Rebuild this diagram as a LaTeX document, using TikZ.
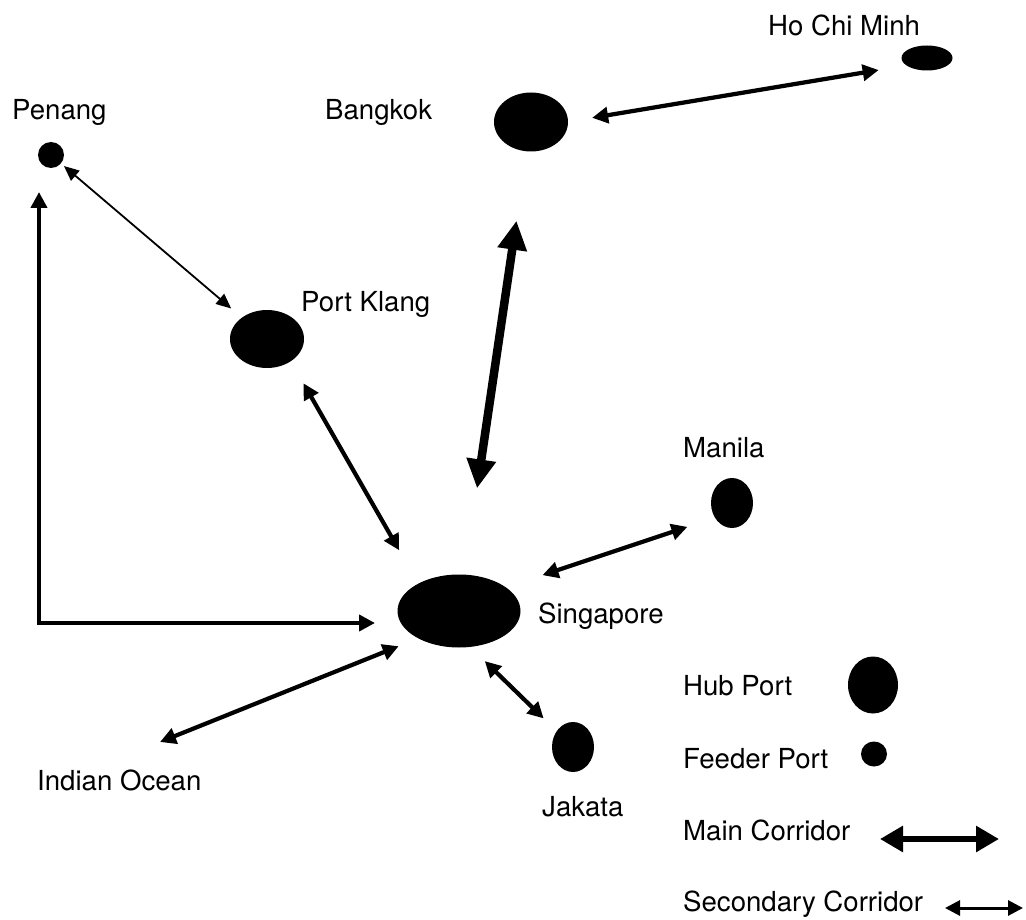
\documentclass[tikz,border=0pt]{standalone}
\usepackage{fontspec}
\setmainfont{TeX Gyre Heros}
\usetikzlibrary{arrows.meta,shapes.geometric}
\begin{document}
\begin{tikzpicture}[x=1pt,y=-1pt,
  port/.style={ellipse,fill=black,draw=none,inner sep=0pt},
  lbl/.style={anchor=base west,inner sep=0pt,font=\fontsize{27.6}{33}\selectfont},
  thinlink/.style={line width=1.8pt,
    {Triangle[length=15pt,width=13pt]}-{Triangle[length=15pt,width=13pt]}},
  midlink/.style={line width=4.2pt,
    {Triangle[length=16pt,width=16pt]}-{Triangle[length=16pt,width=16pt]}},
  thicklink/.style={line width=8.5pt,
    {Triangle[length=29pt,width=28pt]}-{Triangle[length=29pt,width=28pt]}},
  mainkey/.style={line width=6.5pt,
    {Triangle[length=23pt,width=25pt]}-{Triangle[length=23pt,width=25pt]}},
  secondkey/.style={line width=3pt,
    {Triangle[length=15pt,width=15pt]}-{Triangle[length=15pt,width=15pt]}}
]
\useasboundingbox (0,0) rectangle (1026,920);

% ports
\node[port,minimum width=26pt,minimum height=26pt] (pen) at (51,155) {};
\node[port,minimum width=74pt,minimum height=59pt] (bkk) at (531,122) {};
\node[port,minimum width=51pt,minimum height=25pt] (hcm) at (927,58) {};
\node[port,minimum width=74pt,minimum height=58pt] (pk)  at (267,339) {};
\node[port,minimum width=123pt,minimum height=73pt] (sg) at (459,611) {};
\node[port,minimum width=42pt,minimum height=50pt] (mnl) at (732,503) {};
\node[port,minimum width=42pt,minimum height=50pt] (jak) at (573,747) {};
\coordinate (io) at (160,742);

% labels
\node[lbl] (penL) at (12,120) {Penang};
\node[lbl] (bkkL) at (325,120) {Bangkok};
\node[lbl] (hcmL) at (768,36) {Ho Chi Minh};
\node[lbl] (pkL)  at (301,312) {Port Klang};
\node[lbl] (sgL)  at (538,623) {Singapore};
\node[lbl] (mnlL) at (683,457) {Manila};
\node[lbl] (jakL) at (542,816) {Jakata};
\node[lbl] (ioL)  at (37,790) {Indian Ocean};

% corridors
\draw[thicklink,shorten <=70pt,shorten >=87pt] (bkk) -- (sg);
\draw[midlink,shorten <=62pt,shorten >=49pt]
  ([yshift=-6pt]bkk.center) -- ([yshift=-4pt]hcm.center);
\draw[thinlink,shorten <=17pt,shorten >=47pt] (pen.center) -- (pk.center);
\draw[midlink,shorten <=37pt,shorten >=84pt]
  ([xshift=-12pt]pen.center) |- ([yshift=-12pt]sg.center);
\draw[midlink,shorten <=51pt,shorten >=70pt]
  ([xshift=11pt]pk.center) -- ([xshift=-25pt]sg.center);
\draw[midlink,shorten <=88pt,shorten >=47pt]
  ([yshift=8pt]sg.center) -- ([yshift=-9pt]mnl.center);
\draw[midlink,shorten >=65pt] (io) -- ([yshift=-11pt]sg.center);
\draw[midlink,shorten <=36pt,shorten >=41pt]
  ([yshift=-25pt]sg.center) -- (jak.center);

% legend
\node[lbl] (hubL) at (683,695) {Hub Port};
\node[port,minimum width=50pt,minimum height=57pt] (hubK) at (873,685) {};
\node[lbl] (feedL) at (683,768) {Feeder Port};
\node[port,minimum width=26pt,minimum height=25pt] (feedK) at (874,754) {};
\node[lbl] (mainL) at (683,840) {Main Corridor};
\coordinate (mainA) at (880,839);
\coordinate (mainB) at (999,839);
\draw[mainkey] (mainA) -- (mainB);
\node[lbl] (secL) at (683,911) {Secondary Corridor};
\coordinate (secA) at (945,908);
\coordinate (secB) at (1023,908);
\draw[secondkey] (secA) -- (secB);
\end{tikzpicture}
\end{document}
